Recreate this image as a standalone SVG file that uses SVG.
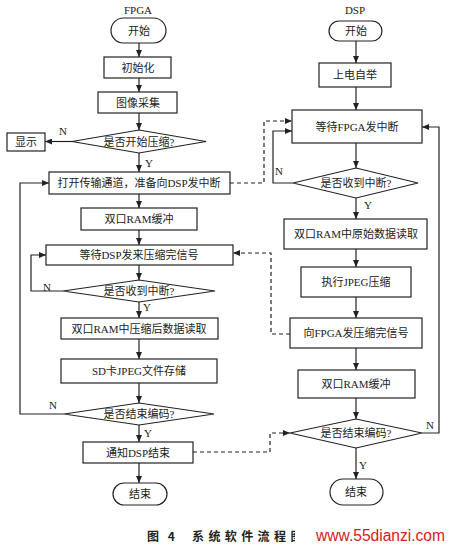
<svg xmlns="http://www.w3.org/2000/svg" width="450" height="545" viewBox="0 0 450 545">
<defs>
<marker id="ah" markerWidth="7" markerHeight="6" refX="7" refY="3" orient="auto" markerUnits="userSpaceOnUse"><path d="M0,0 L7,3 L0,6 z" fill="#222"/></marker>
<style>
.b{fill:#fff;stroke:#222;stroke-width:1.2}
.t{font-family:"Liberation Serif","Noto Sans CJK SC",serif;font-size:11px;fill:#222;text-anchor:middle}
.l{fill:none;stroke:#222;stroke-width:1.2}
.d{fill:none;stroke:#222;stroke-width:1.2;stroke-dasharray:4,3}
.y{font-family:"Liberation Serif",serif;font-size:11px;fill:#222;text-anchor:middle}
</style>
</defs>
<rect width="450" height="545" fill="#fff"/>

<text class="y" x="138" y="14">FPGA</text>
<text class="y" x="355" y="14">DSP</text>

<g id="connectors">
<line class="l" x1="139" y1="43" x2="139" y2="57" marker-end="url(#ah)"/>
<line class="l" x1="139" y1="78" x2="139" y2="92" marker-end="url(#ah)"/>
<line class="l" x1="139" y1="113" x2="139" y2="130" marker-end="url(#ah)"/>
<line class="l" x1="72" y1="141.5" x2="45" y2="141.5" marker-end="url(#ah)"/>
<line class="l" x1="139" y1="153" x2="139" y2="172" marker-end="url(#ah)"/>
<line class="l" x1="139" y1="194" x2="139" y2="208" marker-end="url(#ah)"/>
<line class="l" x1="139" y1="230" x2="139" y2="245" marker-end="url(#ah)"/>
<line class="l" x1="139" y1="265" x2="139" y2="280" marker-end="url(#ah)"/>
<polyline class="l" points="63,291 31,291 31,255 46,255" marker-end="url(#ah)"/>
<line class="l" x1="139" y1="302" x2="139" y2="318" marker-end="url(#ah)"/>
<line class="l" x1="139" y1="339" x2="139" y2="359" marker-end="url(#ah)"/>
<line class="l" x1="139" y1="383" x2="139" y2="403" marker-end="url(#ah)"/>
<polyline class="l" points="64,414 20,414 20,183 49,183" marker-end="url(#ah)"/>
<line class="l" x1="139" y1="425" x2="139" y2="442" marker-end="url(#ah)"/>
<line class="l" x1="139" y1="463" x2="139" y2="483" marker-end="url(#ah)"/>

<line class="l" x1="356" y1="41" x2="356" y2="63" marker-end="url(#ah)"/>
<line class="l" x1="356" y1="87" x2="356" y2="110" marker-end="url(#ah)"/>
<line class="l" x1="356" y1="143" x2="356" y2="168" marker-end="url(#ah)"/>
<polyline class="l" points="293,183 273,183 273,131 292,131" marker-end="url(#ah)"/>
<line class="l" x1="356" y1="198" x2="356" y2="219" marker-end="url(#ah)"/>
<line class="l" x1="356" y1="249" x2="356" y2="267" marker-end="url(#ah)"/>
<line class="l" x1="356" y1="297" x2="356" y2="318" marker-end="url(#ah)"/>
<line class="l" x1="356" y1="348" x2="356" y2="370" marker-end="url(#ah)"/>
<line class="l" x1="356" y1="398" x2="356" y2="419" marker-end="url(#ah)"/>
<polyline class="l" points="422,433 439,433 439,127 422,127" marker-end="url(#ah)"/>
<line class="l" x1="356" y1="448" x2="356" y2="479" marker-end="url(#ah)"/>

<polyline class="d" points="230,183 264,183 264,121 292,121" marker-end="url(#ah)"/>
<polyline class="d" points="290,334 271,334 271,253 233,253" marker-end="url(#ah)"/>
<polyline class="d" points="193,452 270,452 270,433 290,433" marker-end="url(#ah)"/>

<text class="y" x="63" y="135">N</text>
<text class="y" x="149" y="167">Y</text>
<text class="y" x="47" y="291">N</text>
<text class="y" x="147" y="311">Y</text>
<text class="y" x="53" y="409">N</text>
<text class="y" x="148" y="437">Y</text>
<text class="y" x="279" y="175">N</text>
<text class="y" x="368" y="209">Y</text>
<text class="y" x="430" y="429">N</text>
<text class="y" x="363" y="469">Y</text>
</g>

<g id="f_start"><rect class="b" x="111" y="18" width="55" height="25" rx="12.5"/><text class="t" x="139" y="35">开始</text></g>
<g id="f_init"><rect class="b" x="104" y="57" width="67" height="21"/><text class="t" x="138" y="71.5">初始化</text></g>
<g id="f_capture"><rect class="b" x="98" y="92" width="79" height="21"/><text class="t" x="138" y="106.5">图像采集</text></g>
<g id="f_dec1"><polygon class="b" points="72,141.5 139,130 206,141.5 139,153"/><text class="t" x="139" y="145.5">是否开始压缩?</text></g>
<g id="f_display"><rect class="b" x="7" y="133" width="38" height="18"/><text class="t" x="26" y="146">显示</text></g>
<g id="f_open"><rect class="b" x="49" y="172" width="181" height="22"/><text class="t" x="139" y="187">打开传输通道，准备向DSP发中断</text></g>
<g id="f_buf"><rect class="b" x="81" y="208" width="116" height="22"/><text class="t" x="139" y="223">双口RAM缓冲</text></g>
<g id="f_wait"><rect class="b" x="46" y="245" width="187" height="20"/><text class="t" x="139" y="259">等待DSP发来压缩完信号</text></g>
<g id="f_dec2"><polygon class="b" points="63,291 139,280 215,291 139,302"/><text class="t" x="139" y="295">是否收到中断?</text></g>
<g id="f_read"><rect class="b" x="61" y="318" width="157" height="21"/><text class="t" x="139" y="332.5">双口RAM中压缩后数据读取</text></g>
<g id="f_sd"><rect class="b" x="61" y="359" width="156" height="24"/><text class="t" x="139" y="375">SD卡JPEG文件存储</text></g>
<g id="f_dec3"><polygon class="b" points="64,414 139,403 214,414 139,425"/><text class="t" x="139" y="418">是否结束编码?</text></g>
<g id="f_notify"><rect class="b" x="83" y="442" width="110" height="21"/><text class="t" x="138" y="456.5">通知DSP结束</text></g>
<g id="f_end"><rect class="b" x="113" y="483" width="54" height="22" rx="11"/><text class="t" x="140" y="498">结束</text></g>

<g id="d_start"><rect class="b" x="329" y="21" width="53" height="20" rx="10"/><text class="t" x="356" y="35">开始</text></g>
<g id="d_boot"><rect class="b" x="319" y="63" width="72" height="24"/><text class="t" x="355" y="79">上电自举</text></g>
<g id="d_wait"><rect class="b" x="292" y="110" width="130" height="33"/><text class="t" x="357" y="130.5">等待FPGA发中断</text></g>
<g id="d_dec1"><polygon class="b" points="293,183 356,168 418,183 356,198"/><text class="t" x="356" y="187">是否收到中断?</text></g>
<g id="d_read"><rect class="b" x="284" y="219" width="143" height="30"/><text class="t" x="356" y="238">双口RAM中原始数据读取</text></g>
<g id="d_jpeg"><rect class="b" x="301" y="267" width="110" height="30"/><text class="t" x="356" y="286">执行JPEG压缩</text></g>
<g id="d_signal"><rect class="b" x="290" y="318" width="132" height="30"/><text class="t" x="356" y="337">向FPGA发压缩完信号</text></g>
<g id="d_buf"><rect class="b" x="298" y="370" width="117" height="28"/><text class="t" x="356" y="388">双口RAM缓冲</text></g>
<g id="d_dec2"><polygon class="b" points="290,433 356,419 422,433 356,448"/><text class="t" x="356" y="437">是否结束编码?</text></g>
<g id="d_end"><rect class="b" x="330" y="479" width="53" height="26" rx="13"/><text class="t" x="356" y="496">结束</text></g>

<g id="caption">
<text x="147" y="541" font-family="'Noto Sans CJK SC',sans-serif" font-size="12" font-weight="bold" fill="#222" letter-spacing="3">图 4</text>
<text x="192" y="541" font-family="'Noto Sans CJK SC',sans-serif" font-size="12" font-weight="bold" fill="#222" letter-spacing="4.4">系统软件流程图</text>
<rect x="295" y="522" width="155" height="23" fill="#fff"/>
<text x="316" y="541" font-family="'Liberation Sans',sans-serif" font-size="16" fill="#d42020" textLength="129" lengthAdjust="spacingAndGlyphs">www.55dianzi.com</text>
</g>
</svg>
